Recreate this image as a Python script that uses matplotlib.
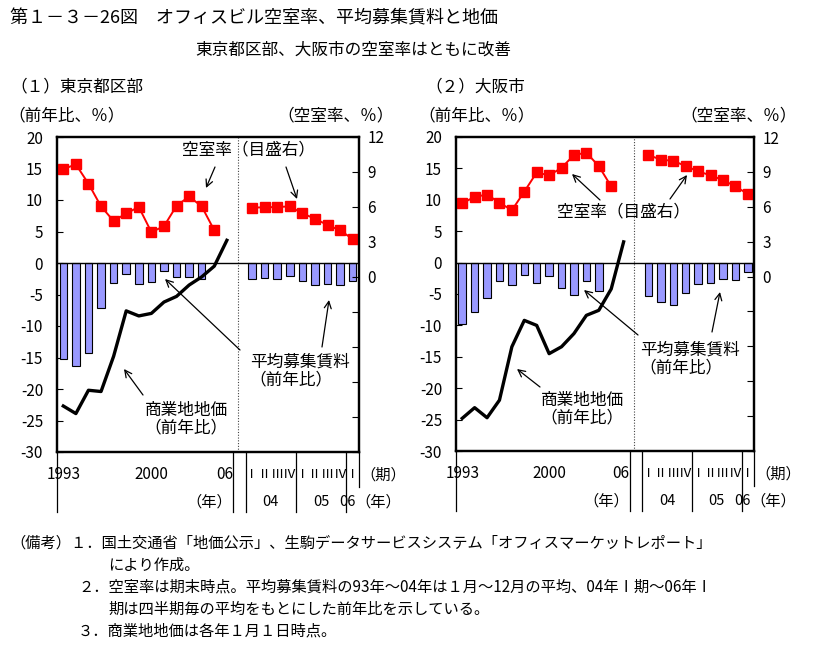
import numpy as np
import matplotlib.pyplot as plt

plt.rcParams['font.family'] = ['Noto Sans CJK JP', 'DejaVu Sans']

# x slots: 1993-2006 annual (0..13), gap at 14, 04 I .. 06 I quarterly (15..23)
annual_idx = np.arange(14)
quarter_idx = np.arange(15, 24)

year_labels = ['1993', '2000', '06']
year_label_idx = [0, 7, 12.8]
quarter_labels = ['Ⅰ', 'Ⅱ', 'Ⅲ', 'Ⅳ', 'Ⅰ', 'Ⅱ', 'Ⅲ', 'Ⅳ', 'Ⅰ']
qyear_labels = ['04', '05', '06']
qyear_idx = [16.5, 20.5, 22.55]

# Tokyo 23 wards
tokyo_vac_annual = [9.25, 9.65, 8.0, 6.05, 4.8, 5.45, 6.0, 3.85, 4.35, 6.1, 6.9, 6.05, 4.0]
tokyo_vac_q = [5.95, 5.97, 6.0, 6.05, 5.45, 5.0, 4.45, 4.0, 3.25]
tokyo_rent_annual = [-15.2, -16.4, -14.3, -7.2, -3.2, -1.8, -3.4, -3.0, -1.3, -2.2, -2.3, -2.5]
tokyo_rent_q = [-2.6, -2.4, -2.6, -2.1, -2.9, -3.5, -3.4, -3.5, -2.8]
tokyo_land = [-22.7, -23.9, -20.2, -20.4, -14.8, -7.6, -8.4, -8.0, -6.2, -5.3, -3.5, -2.2, -0.5, 3.6]

# Osaka city
osaka_vac_annual = [6.3, 6.85, 7.05, 6.35, 5.7, 7.3, 8.95, 8.7, 9.35, 10.45, 10.65, 9.5, 7.75]
osaka_vac_q = [10.45, 10.05, 9.95, 9.5, 9.05, 8.7, 8.3, 7.75, 7.1]
osaka_rent_annual = [-9.7, -7.8, -5.7, -2.9, -3.6, -1.9, -3.2, -2.1, -4.0, -5.2, -3.0, -4.5]
osaka_rent_q = [-5.3, -6.2, -6.7, -4.9, -3.4, -3.2, -2.6, -2.7, -1.5]
osaka_land = [-24.8, -23.1, -24.7, -21.9, -13.4, -9.2, -10.0, -14.5, -13.4, -11.3, -8.4, -7.6, -4.2, 3.3]

W, H = 814, 646
fig = plt.figure(figsize=(W / 100, H / 100), dpi=100)


def fp(x, y):
    # pixel (top-left origin) -> figure fraction
    return (x / W, 1 - y / H)


def ftext(x, y, s, size=12, ha='left'):
    fig.text(*fp(x, y), s, fontsize=size, ha=ha, va='center')


def arrow(tail, tip):
    fig.add_artist(plt.matplotlib.patches.FancyArrowPatch(
        fp(*tail), fp(*tip), transform=fig.transFigure,
        arrowstyle='->,head_length=5,head_width=2.5', lw=0.9, color='black',
        shrinkA=0, shrinkB=0))


def panel(box, vac_a, vac_q, rent_a, rent_q, land):
    x0, y0, x1, y1 = box
    ax = fig.add_axes([x0 / W, 1 - y1 / H, (x1 - x0) / W, (y1 - y0) / H])
    ax2 = ax.twinx()

    ax.bar(annual_idx[:len(rent_a)], rent_a, width=0.6, color='#9999FF',
           edgecolor='black', lw=0.8, zorder=2)
    ax.bar(quarter_idx, rent_q, width=0.6, color='#9999FF',
           edgecolor='black', lw=0.8, zorder=2)
    ax.axhline(0, color='black', lw=1, zorder=3)
    ax.plot(annual_idx, land, color='black', lw=2.4, zorder=4,
            solid_joinstyle='round')
    ax.axvline(13.85, color='#444444', lw=0.8, ls=(0, (1, 1.5)), zorder=1)

    ax2.plot(annual_idx[:len(vac_a)], vac_a, color='red', lw=1.4,
             marker='s', ms=7, mec='red')
    ax2.plot(quarter_idx, vac_q, color='red', lw=1.4, marker='s', ms=7,
             mec='red')

    ax.set_xlim(-0.5, 23.5)
    ax.set_ylim(-30, 20)
    ax.set_yticks(np.arange(-30, 21, 5))
    ax.set_yticklabels([str(v) for v in range(-30, 21, 5)])
    ax2.set_ylim(-15, 12)
    ax2.set_yticks(np.arange(-15, 13, 3))
    ax2.set_yticklabels(['' if v < 0 else str(v) for v in range(-15, 13, 3)])
    ax.set_xticks([])
    ax.tick_params(axis='y', direction='in', length=4, pad=10, labelsize=11)
    ax2.tick_params(axis='y', direction='in', length=5, pad=6, labelsize=11)
    for a in (ax, ax2):
        for sp in a.spines.values():
            sp.set_linewidth(1.6)

    tr = ax.get_xaxis_transform()
    for xi, s in zip(year_label_idx, year_labels):
        ax.text(xi, -0.073, s, transform=tr, ha='center', va='center',
                fontsize=11)
    for xi, s in zip(quarter_idx, quarter_labels):
        ax.text(xi, -0.073, s, transform=tr, ha='center', va='center',
                fontsize=9.5)
    for xi, s in zip(qyear_idx, qyear_labels):
        ax.text(xi, -0.159, s, transform=tr, ha='center', va='center',
                fontsize=10.5)
    ax.text(13.45, -0.159, '（年）', transform=tr, ha='right', va='center',
            fontsize=11)
    ax.text(23.2, -0.159, '（年）', transform=tr, ha='left', va='center',
            fontsize=11)
    ax.text(23.6, -0.073, '（期）', transform=tr, ha='left', va='center',
            fontsize=11)
    for xi, ybot in [(-0.5, -0.19), (13.5, -0.19), (14.5, -0.19),
                     (18.5, -0.19), (22.5, -0.19), (23.5, -0.11)]:
        ax.plot([xi, xi], [0, ybot], transform=tr, color='black', lw=0.9,
                clip_on=False)
    return ax


panel((57, 137, 359, 452), tokyo_vac_annual, tokyo_vac_q,
      tokyo_rent_annual, tokyo_rent_q, tokyo_land)
panel((456, 137, 754, 451), osaka_vac_annual, osaka_vac_q,
      osaka_rent_annual, osaka_rent_q, osaka_land)

ftext(10, 18, '第１－３－26図　オフィスビル空室率、平均募集賃料と地価', 13)
ftext(195, 50, '東京都区部、大阪市の空室率はともに改善', 12)
ftext(10, 87, '（１）東京都区部', 12)
ftext(425, 87, '（２）大阪市', 12)
ftext(8, 116, '（前年比、％）', 12)
ftext(277, 116, '（空室率、％）', 12)
ftext(418, 116, '（前年比、％）', 12)
ftext(680, 116, '（空室率、％）', 12)

# annotations, Tokyo
ftext(182, 150, '空室率（目盛右）', 12)
arrow((215, 167), (206, 188))
arrow((286, 167), (297, 199))
ftext(300, 362, '平均募集賃料', 12, ha='center')
ftext(291, 380, '（前年比）', 12, ha='center')
arrow((240, 350), (165, 279))
arrow((322, 347), (329, 300))
ftext(186, 410, '商業地地価', 12, ha='center')
ftext(186, 428, '（前年比）', 12, ha='center')
arrow((143, 395), (124, 369))

# annotations, Osaka
ftext(623, 212, '空室率（目盛右）', 12, ha='center')
arrow((600, 200), (572, 174))
arrow((670, 199), (687, 175))
ftext(690, 350, '平均募集賃料', 12, ha='center')
ftext(681, 368, '（前年比）', 12, ha='center')
arrow((638, 335), (584, 290))
arrow((712, 332), (720, 292))
ftext(582, 400, '商業地地価', 12, ha='center')
ftext(582, 418, '（前年比）', 12, ha='center')
arrow((540, 387), (517, 369))

notes = [
    (10, 543, '（備考）１．国土交通省「地価公示」、生駒データサービスシステム「オフィスマーケットレポート」'),
    (108, 565, 'により作成。'),
    (78, 587, '２．空室率は期末時点。平均募集賃料の93年～04年は１月～12月の平均、04年Ⅰ期～06年Ⅰ'),
    (108, 609, '期は四半期毎の平均をもとにした前年比を示している。'),
    (78, 631, '３．商業地地価は各年１月１日時点。'),
]
for x, y, s in notes:
    ftext(x, y, s, 11)

fig.savefig('out.png', dpi=100)
